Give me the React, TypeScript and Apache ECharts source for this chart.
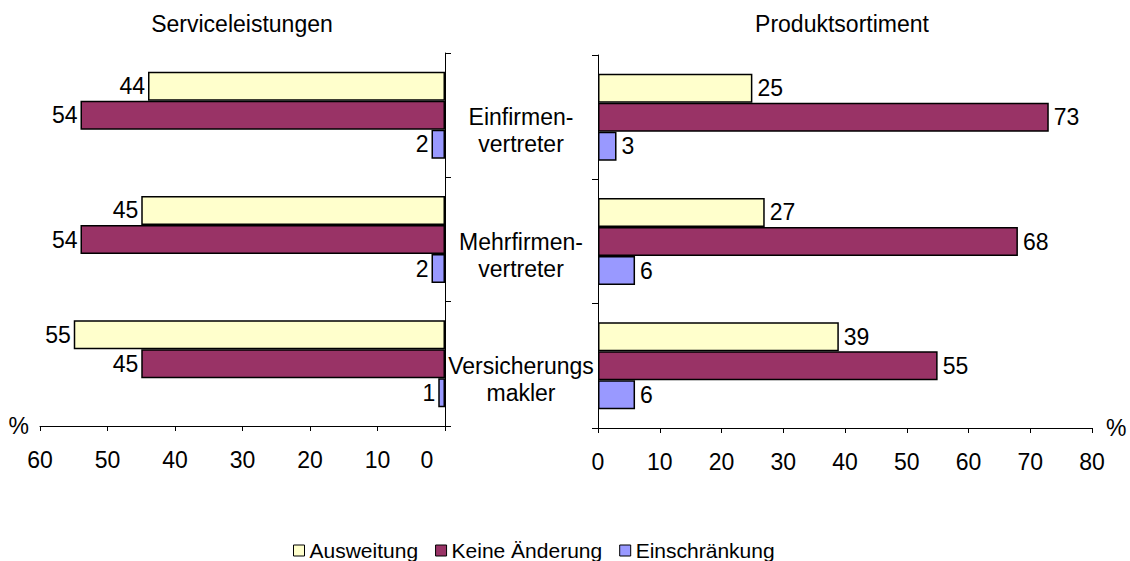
import React, { useEffect, useRef } from "react";
import * as echarts from "echarts";

const categories = ["Einfirmen-\nvertreter", "Mehrfirmen-\nvertreter", "Versicherungs\nmakler"];
const seriesNames = ["Ausweitung", "Keine Änderung", "Einschränkung"];
const seriesColors = ["#FFFFCC", "#993366", "#9999FF"];

const panelTitles = ["Serviceleistungen", "Produktsortiment"];

// Serviceleistungen (left panel)
const serviceAusweitung = [44, 45, 55];
const serviceKeineAenderung = [54, 54, 45];
const serviceEinschraenkung = [2, 2, 1];

// Produktsortiment (right panel)
const produktAusweitung = [25, 27, 39];
const produktKeineAenderung = [73, 68, 55];
const produktEinschraenkung = [3, 6, 6];

const leftMax = 60;
const rightMax = 80;
const tickStep = 10;

const FONT = "'Liberation Sans', Arial, Helvetica, sans-serif";

export default function App() {
  const ref = useRef<HTMLDivElement>(null);

  useEffect(() => {
    if (!ref.current) return;
    const chart = echarts.init(ref.current, undefined, { renderer: "svg" });

    const leftData = [serviceAusweitung, serviceKeineAenderung, serviceEinschraenkung];
    const rightData = [produktAusweitung, produktKeineAenderung, produktEinschraenkung];

    const makeSeries = (dataSets: number[][], idx: number, side: "left" | "right") =>
      dataSets.map((d, i) => ({
        type: "bar",
        name: seriesNames[i],
        xAxisIndex: idx,
        yAxisIndex: idx,
        data: d,
        barGap: "0%",
        barCategoryGap: "30%",
        itemStyle: { color: seriesColors[i], borderColor: "#000", borderWidth: 1.5 },
        label: {
          show: true,
          position: side,
          distance: side === "left" ? 3 : 5,
          fontSize: 23,
          fontFamily: FONT,
          color: "#000",
        },
        emphasis: { disabled: true },
      }));

    const axisLine = { show: true, lineStyle: { color: "#000", width: 1 } };

    chart.setOption({
      animation: false,
      textStyle: { fontFamily: FONT },
      title: [
        {
          text: panelTitles[0],
          left: 242,
          top: 12,
          padding: 0,
          textAlign: "center",
          textStyle: { fontSize: 23, fontWeight: "normal", color: "#000", fontFamily: FONT },
        },
        {
          text: panelTitles[1],
          left: 842,
          top: 12,
          padding: 0,
          textAlign: "center",
          textStyle: { fontSize: 23, fontWeight: "normal", color: "#000", fontFamily: FONT },
        },
      ],
      legend: {
        data: seriesNames,
        left: 293,
        top: 540,
        padding: 0,
        itemWidth: 11,
        itemHeight: 11,
        itemGap: 17,
        icon: "rect",
        itemStyle: { borderColor: "#000", borderWidth: 1 },
        textStyle: { fontSize: 21, color: "#000", fontFamily: FONT },
        selectedMode: false,
      },
      grid: [
        { left: 40, right: 1130 - 445, top: 53, bottom: 561 - 426 },
        { left: 598, right: 1130 - 1092, top: 55, bottom: 561 - 428 },
      ],
      xAxis: [
        {
          type: "value",
          gridIndex: 0,
          inverse: true,
          min: 0,
          max: leftMax,
          interval: tickStep,
          name: "%",
          nameLocation: "end",
          nameGap: 11,
          nameTextStyle: { fontSize: 23, color: "#000", fontFamily: FONT, verticalAlign: "middle", padding: [0, 0, 4, 0] },
          axisLine,
          axisTick: { show: true, length: 5, inside: false, lineStyle: { color: "#000" } },
          splitLine: { show: false },
          axisLabel: {
            fontSize: 23,
            color: "#000",
            margin: 22,
            fontFamily: FONT,
            formatter: (v: number) => (v === 0 ? "{z|0}" : String(v)),
            rich: { z: { fontSize: 23, color: "#000", fontFamily: FONT, padding: [0, 36, 0, 0] } },
          },
        },
        {
          type: "value",
          gridIndex: 1,
          min: 0,
          max: rightMax,
          interval: tickStep,
          name: "%",
          nameLocation: "end",
          nameGap: 14,
          nameTextStyle: { fontSize: 23, color: "#000", fontFamily: FONT, verticalAlign: "middle", padding: [0, 0, 4, 0] },
          axisLine,
          axisTick: { show: true, length: 5, inside: false, lineStyle: { color: "#000" } },
          splitLine: { show: false },
          axisLabel: { fontSize: 23, color: "#000", margin: 22, fontFamily: FONT },
        },
      ],
      yAxis: [
        {
          type: "category",
          gridIndex: 0,
          position: "right",
          inverse: true,
          data: categories,
          axisLine,
          axisTick: { show: true, length: 6, inside: false, lineStyle: { color: "#000" } },
          axisLabel: { show: false },
          splitLine: { show: false },
        },
        {
          type: "category",
          gridIndex: 1,
          position: "left",
          inverse: true,
          data: categories,
          axisLine,
          axisTick: { show: true, length: 6, inside: false, lineStyle: { color: "#000" } },
          axisLabel: {
            show: true,
            fontSize: 23,
            lineHeight: 27,
            color: "#000",
            fontFamily: FONT,
            align: "center",
            verticalAlign: "middle",
            margin: 77,
            formatter: (v: string) => "\n" + v,
          },
          splitLine: { show: false },
        },
      ],
      series: [...makeSeries(leftData, 0, "left"), ...makeSeries(rightData, 1, "right")],
    });

    return () => chart.dispose();
  }, []);

  return (
    <div
      ref={ref}
      style={{ position: "absolute", left: 0, top: 0, width: 1130, height: 561, background: "#fff" }}
    />
  );
}
